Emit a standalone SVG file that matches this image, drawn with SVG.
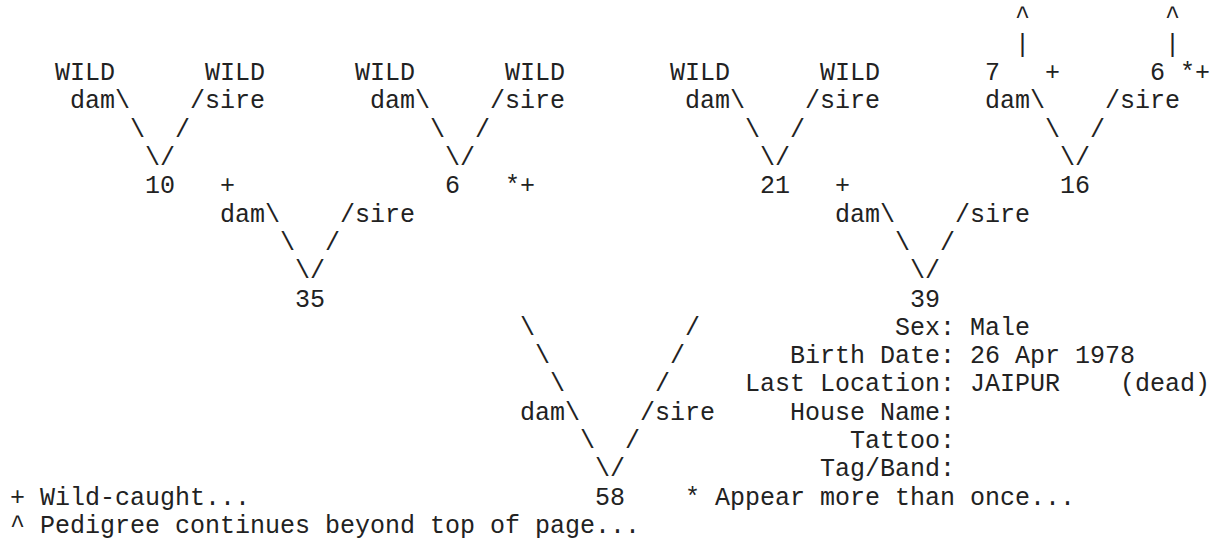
<svg xmlns="http://www.w3.org/2000/svg" width="1215" height="550" viewBox="0 0 1215 550" xml:space="preserve">
<style>
text{font-family:"Liberation Mono","Courier New",monospace;font-size:25px;fill:#222;white-space:pre}
</style>
<rect width="1215" height="550" fill="#fff"/>
<g id="connectors">
<text x="1015" y="23.5">^</text><text x="1165" y="23.5">^</text>
<text x="1015" y="51.8">|</text><text x="1165" y="51.8">|</text>
<text x="70" y="108.4">dam\</text><text x="190" y="108.4">/sire</text>
<text x="370" y="108.4">dam\</text><text x="490" y="108.4">/sire</text>
<text x="685" y="108.4">dam\</text><text x="805" y="108.4">/sire</text>
<text x="985" y="108.4">dam\</text><text x="1105" y="108.4">/sire</text>
<text x="130" y="136.7">\  /</text><text x="430" y="136.7">\  /</text>
<text x="745" y="136.7">\  /</text><text x="1045" y="136.7">\  /</text>
<text x="145" y="165">\/</text><text x="445" y="165">\/</text>
<text x="760" y="165">\/</text><text x="1060" y="165">\/</text>
<text x="220" y="221.6">dam\</text><text x="340" y="221.6">/sire</text>
<text x="835" y="221.6">dam\</text><text x="955" y="221.6">/sire</text>
<text x="280" y="249.9">\  /</text><text x="895" y="249.9">\  /</text>
<text x="295" y="278.2">\/</text><text x="910" y="278.2">\/</text>
<text x="520" y="334.8">\          /</text>
<text x="535" y="363.1">\        /</text>
<text x="550" y="391.4">\      /</text>
<text x="520" y="419.7">dam\    /sire</text>
<text x="580" y="448">\  /</text>
<text x="595" y="476.3">\/</text>
</g>
<g id="node-wild-1"><text x="55" y="80.1">WILD</text></g>
<g id="node-wild-2"><text x="205" y="80.1">WILD</text></g>
<g id="node-wild-3"><text x="355" y="80.1">WILD</text></g>
<g id="node-wild-4"><text x="505" y="80.1">WILD</text></g>
<g id="node-wild-5"><text x="670" y="80.1">WILD</text></g>
<g id="node-wild-6"><text x="820" y="80.1">WILD</text></g>
<g id="node-7"><text x="985" y="80.1">7</text><text x="1045" y="80.1">+</text></g>
<g id="node-6-top"><text x="1150" y="80.1">6 *+</text></g>
<g id="node-10"><text x="145" y="193.3">10</text><text x="220" y="193.3">+</text></g>
<g id="node-6"><text x="445" y="193.3">6</text><text x="505" y="193.3">*+</text></g>
<g id="node-21"><text x="760" y="193.3">21</text><text x="835" y="193.3">+</text></g>
<g id="node-16"><text x="1060" y="193.3">16</text></g>
<g id="node-35"><text x="295" y="306.5">35</text></g>
<g id="node-39"><text x="910" y="306.5">39</text></g>
<g id="node-58"><text x="595" y="504.6">58</text></g>
<g id="info">
<text x="895" y="334.8">Sex: Male</text>
<text x="790" y="363.1">Birth Date: 26 Apr 1978</text>
<text x="745" y="391.4">Last Location: JAIPUR    (dead)</text>
<text x="790" y="419.7">House Name:</text>
<text x="850" y="448">Tattoo:</text>
<text x="820" y="476.3">Tag/Band:</text>
</g>
<g id="legend">
<text x="10" y="504.6">+ Wild-caught...</text>
<text x="685" y="504.6">* Appear more than once...</text>
<text x="10" y="532.9">^ Pedigree continues beyond top of page...</text>
</g>
</svg>
